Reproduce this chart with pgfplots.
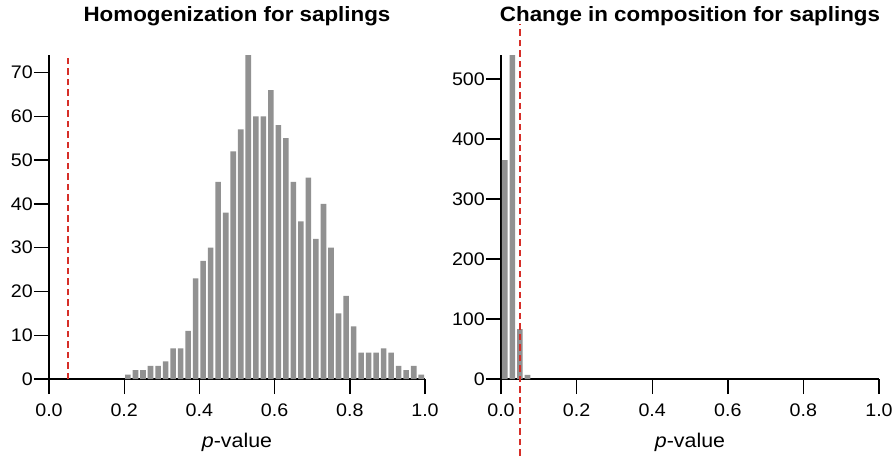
\documentclass[border=0pt]{standalone}
\usepackage{pgfplots}
\pgfplotsset{compat=1.18}
\usepackage{fontspec}
\setmainfont{Liberation Sans}[FakeStretch=1.08]
\definecolor{bargray}{RGB}{145,145,145}
\definecolor{redline}{RGB}{214,46,40}
\newcommand{\tickfont}{\fontsize{18.2}{21}\selectfont}
\pgfplotsset{
  hist/.style={
    scale only axis, width=376pt, height=324pt,
    axis lines=left, axis line style={-, line width=1.8pt, black},
    xmin=0, xmax=1, ymin=0,
    xtick={0,0.2,0.4,0.6,0.8,1},
    tick align=outside, major tick length=15pt,
    tick style={line width=1.4pt, black},
    /pgf/number format/assume math mode=true,
    xticklabel style={/pgf/number format/fixed, /pgf/number format/fixed zerofill, /pgf/number format/precision=1},
    yticklabel style={font=\tickfont, inner sep=1pt},
    xticklabel style={font=\tickfont, inner sep=10pt},
    xlabel={\textit{p}-value},
    xlabel style={font=\fontsize{19.8}{22}\selectfont, at={(axis description cs:0.5,0)}, anchor=base, yshift=-68pt},
    title style={font=\bfseries\fontsize{20.7}{23}\selectfont, at={(axis description cs:0.5,1)}, anchor=base, yshift=28pt},
    clip=false,
  }
}
\begin{document}
\begin{tikzpicture}
\useasboundingbox (-49pt,-77pt) rectangle (846pt,379pt);
\begin{axis}[hist, ymax=74, ytick={0,10,...,70},
  title={Homogenization for saplings}]
\addplot[ybar, bar width=0.0148, fill=bargray, draw=none] coordinates {
(0.21,1) (0.23,2) (0.25,2) (0.27,3) (0.29,3) (0.31,4) (0.33,7) (0.35,7) (0.37,11) (0.39,23)
(0.41,27) (0.43,30) (0.45,45) (0.47,38) (0.49,52) (0.51,57) (0.53,74) (0.55,60) (0.57,60) (0.59,66)
(0.61,58) (0.63,55) (0.65,45) (0.67,36) (0.69,46) (0.71,32) (0.73,40) (0.75,30) (0.77,15) (0.79,19)
(0.81,12) (0.83,6) (0.85,6) (0.87,6) (0.89,7) (0.91,6) (0.93,3) (0.95,2) (0.97,3) (0.99,1)
};
\addplot[redline, line width=1.5pt, dash pattern=on 6.5pt off 4pt] coordinates {(0.05,0) (0.05,74)};
\end{axis}
\begin{axis}[hist, at={(452pt,0pt)}, xmax=1, ymax=540, ytick={0,100,...,500}, width=378pt,
  title={Change in composition for saplings}]
\addplot[ybar, bar width=0.0148, fill=bargray, draw=none] coordinates {
(0.01,365) (0.03,540) (0.05,83) (0.07,7)
};
\addplot[redline, line width=1.5pt, dash pattern=on 6.5pt off 4pt] coordinates {(0.05,-128) (0.05,592)};
\end{axis}
\end{tikzpicture}
\end{document}
